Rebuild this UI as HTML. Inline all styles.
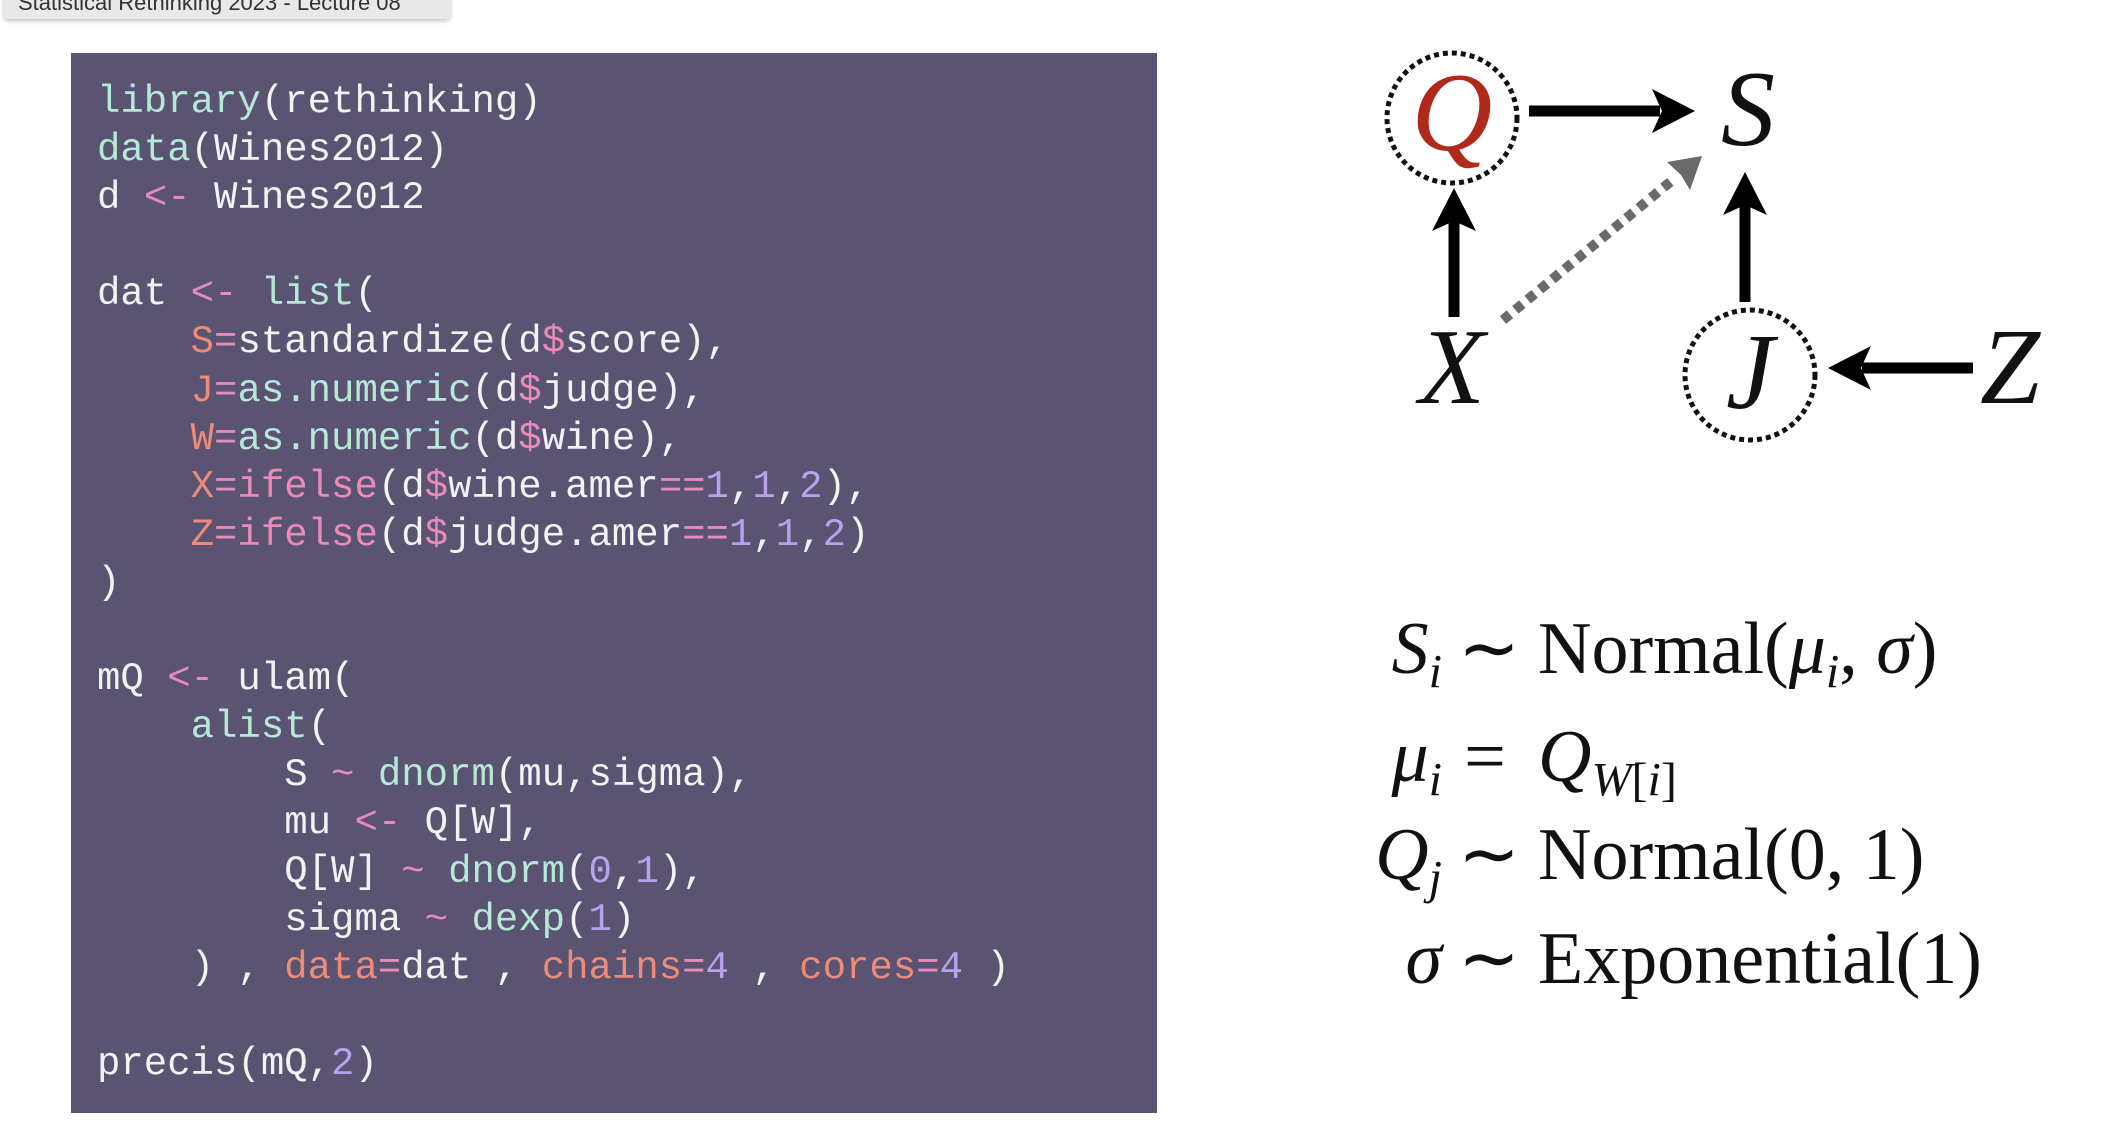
<!DOCTYPE html>
<html><head><meta charset="utf-8"><style>
html,body{margin:0;padding:0;background:#fff;width:2102px;height:1130px;overflow:hidden;position:relative}
.tab{position:absolute;left:4px;top:-8px;width:446px;height:27px;background:#e9e9e9;border-radius:0 0 4px 4px;box-shadow:0 2px 5px rgba(0,0,0,.25);font:22px "Liberation Sans",sans-serif;color:#333;padding-left:14px;box-sizing:border-box;line-height:22px}
.panel{position:absolute;left:71px;top:53px;width:1086px;height:1060px;background:#5a5372}
pre{position:absolute;left:26px;top:25px;margin:0;font-family:"Liberation Mono",monospace;font-size:39px;line-height:48.1px;color:#f2f2f2}
.f{color:#b5e8d5}.o{color:#e88bb8}.v{color:#ee8a78}.n{color:#b8a2ee}
.eq{position:absolute;font-family:"Liberation Serif",serif;font-size:74px;color:#111;white-space:nowrap;line-height:1}
.l{text-align:right;width:300px;left:1142px;font-style:italic}
.r{left:1538px}
.m{left:1458px;width:54px;text-align:center}
sub{font-size:0.65em;vertical-align:-0.3em}
</style></head><body>
<div class="tab">Statistical Rethinking 2023 - Lecture 08</div>
<div class="panel"><pre><span class="f">library</span>(rethinking)
<span class="f">data</span>(Wines2012)
d <span class="o">&lt;-</span> Wines2012

dat <span class="o">&lt;-</span> <span class="f">list</span>(
    <span class="v">S</span><span class="o">=</span><span>standardize</span>(d<span class="o">$</span>score),
    <span class="v">J</span><span class="o">=</span><span class="f">as.numeric</span>(d<span class="o">$</span>judge),
    <span class="v">W</span><span class="o">=</span><span class="f">as.numeric</span>(d<span class="o">$</span>wine),
    <span class="v">X</span><span class="o">=ifelse</span>(d<span class="o">$</span>wine.amer<span class="o">==</span><span class="n">1</span>,<span class="n">1</span>,<span class="n">2</span>),
    <span class="v">Z</span><span class="o">=ifelse</span>(d<span class="o">$</span>judge.amer<span class="o">==</span><span class="n">1</span>,<span class="n">1</span>,<span class="n">2</span>)
)

mQ <span class="o">&lt;-</span> ulam(
    <span class="f">alist</span>(
        S <span class="o">~</span> <span class="f">dnorm</span>(mu,sigma),
        mu <span class="o">&lt;-</span> Q[W],
        Q[W] <span class="o">~</span> <span class="f">dnorm</span>(<span class="n">0</span>,<span class="n">1</span>),
        sigma <span class="o">~</span> <span class="f">dexp</span>(<span class="n">1</span>)
    ) , <span class="v">data</span><span class="o">=</span>dat , <span class="v">chains</span><span class="o">=</span><span class="n">4</span> , <span class="v">cores</span><span class="o">=</span><span class="n">4</span> )

precis(mQ,<span class="n">2</span>)</pre></div>

<svg width="2102" height="1130" style="position:absolute;left:0;top:0" xmlns="http://www.w3.org/2000/svg">
<g font-family="Liberation Serif, serif" font-style="italic" text-anchor="middle">
<text x="1452" y="150" font-size="112" fill="#b02a1c">Q</text>
<text x="1748" y="145" font-size="108" fill="#111">S</text>
<text x="1452" y="403" font-size="108" fill="#111">X</text>
<text x="1750" y="408" font-size="108" fill="#111">J</text>
<text x="2010" y="403" font-size="108" fill="#111">Z</text>
</g>
<circle cx="1452" cy="118" r="65" fill="none" stroke="#111" stroke-width="5" stroke-dasharray="5 4"/>
<circle cx="1750" cy="375" r="65" fill="none" stroke="#111" stroke-width="5" stroke-dasharray="5 4"/>
<line x1="1529" y1="111" x2="1660" y2="111" stroke="#000" stroke-width="11"/>
<polygon points="1652,89 1695,111 1652,133 1662,111" fill="#000"/>
<line x1="1454" y1="317" x2="1454" y2="220" stroke="#000" stroke-width="11"/>
<polygon points="1432,231 1454,188 1476,231 1454,221" fill="#000"/>
<line x1="1745" y1="302" x2="1745" y2="205" stroke="#000" stroke-width="11"/>
<polygon points="1723,215 1745,172 1767,215 1745,205" fill="#000"/>
<line x1="1973" y1="368" x2="1862" y2="368" stroke="#000" stroke-width="11"/>
<polygon points="1871,346 1828,368 1871,390 1861,368" fill="#000"/>
<line x1="1503" y1="320" x2="1675" y2="178" stroke="#6a6a6a" stroke-width="10" stroke-dasharray="9 7"/>
<polygon points="1667,162 1702,156 1690,190 1681,175" fill="#6a6a6a"/>
</svg>

<div class="eq l" style="top:612px">S<sub>i</sub></div><div class="eq m" style="top:612px">∼</div><div class="eq r" style="top:612px">Normal(<i>μ<sub>i</sub></i>, <i>σ</i>)</div>
<div class="eq l" style="top:720px">μ<sub>i</sub></div><div class="eq m" style="top:720px">=</div><div class="eq r" style="top:720px"><i>Q</i><sub><i>W</i>[<i>i</i>]</sub></div>
<div class="eq l" style="top:818px">Q<sub>j</sub></div><div class="eq m" style="top:818px">∼</div><div class="eq r" style="top:818px">Normal(0, 1)</div>
<div class="eq l" style="top:922px">σ</div><div class="eq m" style="top:922px">∼</div><div class="eq r" style="top:922px">Exponential(1)</div>
</body></html>
